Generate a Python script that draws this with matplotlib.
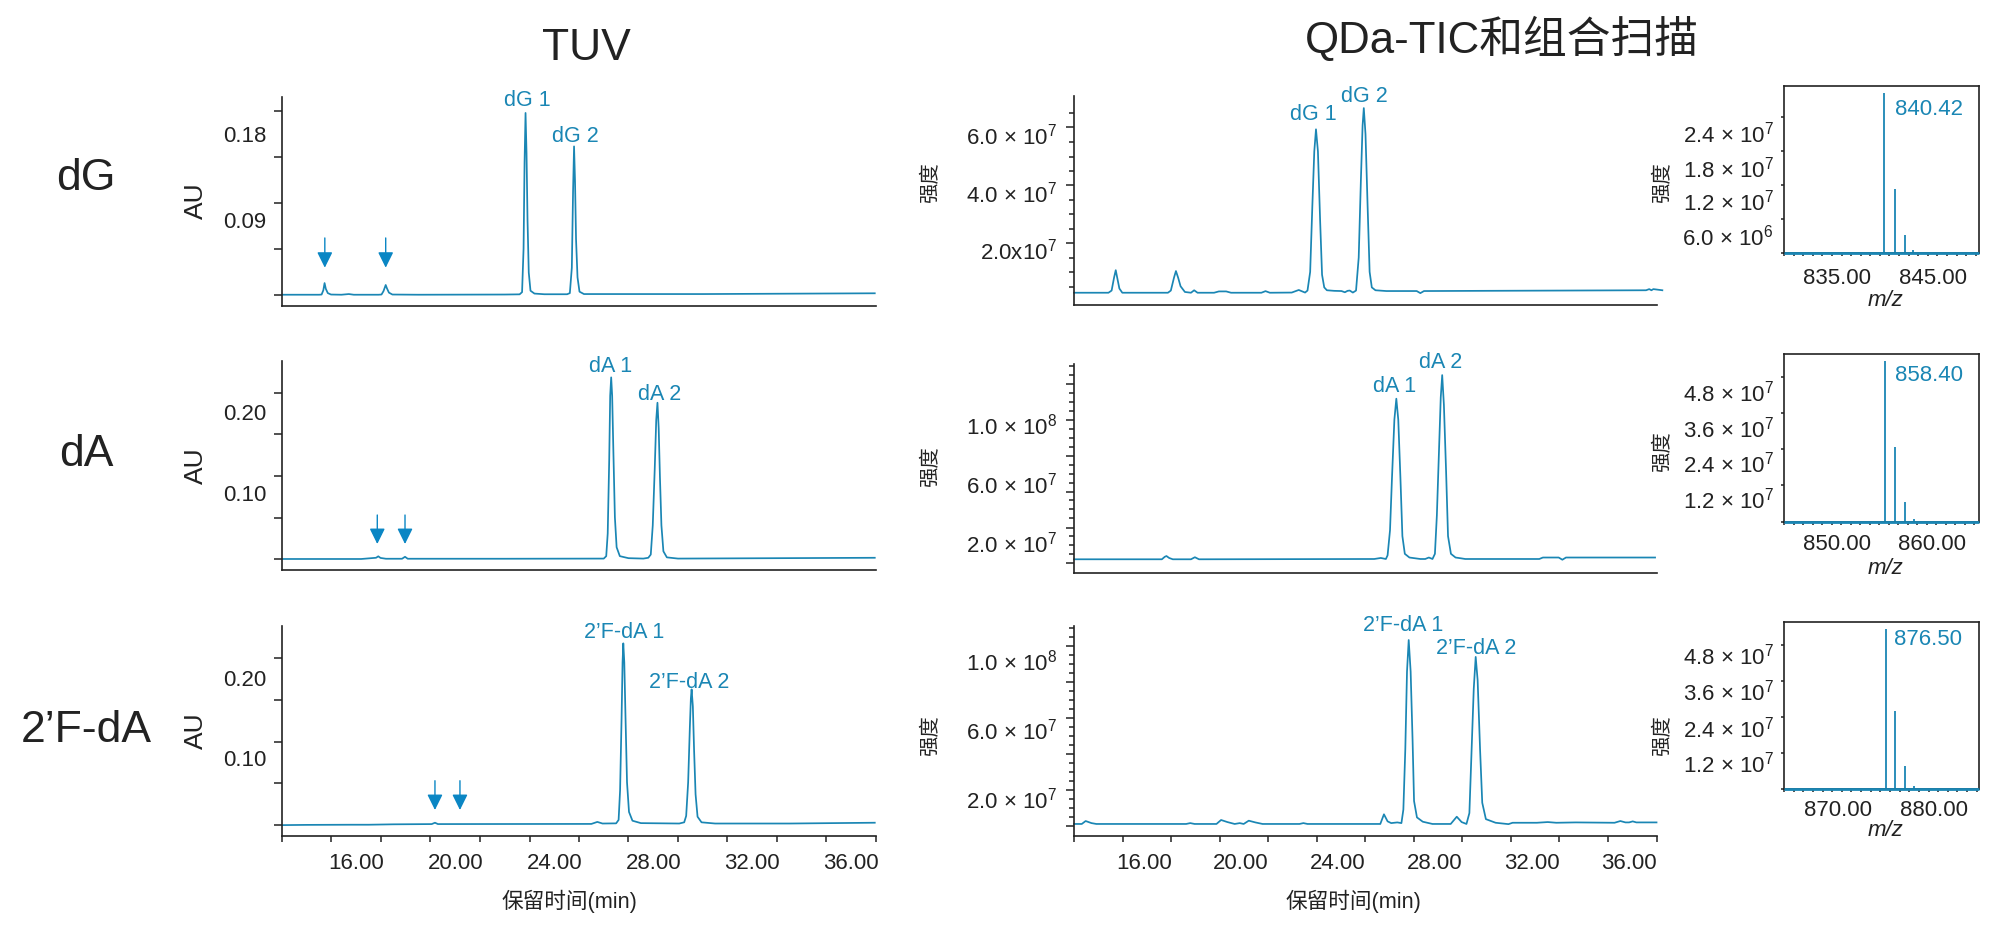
import numpy as np
import matplotlib
matplotlib.use("Agg")
import matplotlib.pyplot as plt
from matplotlib.transforms import ScaledTranslation

plt.rcParams["font.family"] = ["Liberation Sans", "Noto Sans CJK SC", "DejaVu Sans"]
plt.rcParams["mathtext.fontset"] = "custom"
plt.rcParams["mathtext.rm"] = "Liberation Sans"
plt.rcParams["mathtext.default"] = "regular"

W, H = 2000, 936
BLUE = "#1a86b4"
ARROW = "#0a86c4"
DARK = "#222222"

# TUV traces (retention time in min, absorbance in AU)
tuv_dg_t = [13.0, 14.5, 14.6, 14.67, 14.72, 14.77, 14.85, 14.98, 15.4, 15.7, 15.9, 16.9, 17.02, 17.1, 17.19, 17.24, 17.32, 17.46, 18.5, 22.0, 22.6, 22.7, 22.76, 22.8, 22.84, 22.88, 22.92, 22.97, 23.04, 23.2, 23.6, 24.52, 24.63, 24.71, 24.76, 24.8, 24.84, 24.88, 24.94, 25.02, 25.2, 30.0, 36.95]
tuv_dg_v = [.0118, .0118, .012, .0165, .024, .018, .0135, .012, .0118, .0125, .0118, .0118, .012, .0155, .022, .0185, .014, .012, .0118, .012, .0122, .0145, .06, .15, .202, .16, .09, .035, .016, .013, .0123, .0123, .0135, .04, .12, .167, .13, .07, .03, .015, .0125, .0125, .0133]
tuv_da_t = [13.0, 16.2, 16.6, 16.8, 16.89, 16.98, 17.2, 17.85, 17.97, 18.08, 22.0, 26.0, 26.1, 26.16, 26.22, 26.26, 26.3, 26.34, 26.39, 26.45, 26.52, 26.65, 27.0, 27.6, 27.8, 27.9, 27.98, 28.06, 28.12, 28.17, 28.22, 28.27, 28.33, 28.41, 28.55, 29.0, 36.95]
tuv_da_v = [.0185, .0185, .0195, .02, .0218, .0198, .0188, .0188, .0212, .0188, .0188, .019, .022, .05, .14, .22, .2428, .22, .15, .07, .033, .022, .0195, .019, .02, .024, .06, .13, .19, .2115, .18, .12, .06, .028, .0205, .019, .02]
tuv_fa_t = [13.0, 14.0, 15.8, 16.5, 17.5, 19.05, 19.18, 19.3, 25.5, 25.74, 25.95, 26.5, 26.6, 26.66, 26.72, 26.76, 26.79, 26.83, 26.88, 26.94, 27.02, 27.16, 27.5, 29.05, 29.25, 29.33, 29.41, 29.48, 29.52, 29.55, 29.6, 29.65, 29.71, 29.79, 29.95, 30.5, 33.5, 36.95]
tuv_fa_v = [.0165, .0168, .017, .017, .0175, .0178, .0195, .0178, .018, .0205, .0185, .0187, .023, .06, .15, .22, .2437, .22, .15, .07, .033, .022, .019, .0185, .02, .028, .07, .14, .175, .1862, .165, .11, .055, .027, .02, .0185, .0185, .0195]

# QDa TIC traces (intensity in units of 1e7)
tic_dg_t = [13.13, 14.55, 14.68, 14.78, 14.85, 14.91, 15.0, 15.12, 17.0, 17.12, 17.25, 17.33, 17.42, 17.52, 17.7, 17.95, 18.08, 18.22, 18.9, 19.1, 19.4, 19.6, 20.85, 21.02, 21.2, 22.1, 22.39, 22.65, 22.75, 22.86, 22.95, 23.03, 23.1, 23.18, 23.27, 23.35, 23.44, 23.55, 23.85, 24.15, 24.29, 24.4, 24.49, 24.62, 24.75, 24.86, 24.95, 25.02, 25.07, 25.14, 25.23, 25.31, 25.4, 25.55, 26.0, 27.25, 27.4, 27.55, 36.7, 36.83, 36.92, 37.0, 37.37]
tic_dg_v = [.574, .574, .65, 1.1, 1.36, 1.1, .72, .574, .574, .65, 1.1, 1.33, 1.1, .8, .6, .574, .66, .574, .574, .62, .62, .574, .574, .63, .574, .58, .67, .58, .65, 1.3, 3.6, 5.5, 6.27, 5.5, 3.1, 1.2, .76, .66, .64, .633, .59, .64, .65, .58, .65, 1.8, 4.5, 6.4, 7.01, 6.1, 3.5, 1.3, .76, .66, .633, .633, .56, .633, .66, .7, .66, .7, .66]
tic_da_t = [13.13, 16.75, 16.87, 16.94, 17.05, 17.2, 17.95, 18.11, 18.28, 25.5, 25.77, 25.98, 26.05, 26.15, 26.23, 26.33, 26.41, 26.49, 26.58, 26.66, 26.76, 26.95, 27.4, 27.6, 27.75, 27.9, 28.0, 28.08, 28.16, 28.24, 28.3, 28.37, 28.46, 28.54, 28.66, 28.85, 29.06, 29.25, 32.3, 32.45, 33.1, 33.25, 33.4, 37.07]
tic_da_v = [1.03, 1.03, 1.2, 1.25, 1.12, 1.03, 1.03, 1.17, 1.03, 1.05, 1.12, 1.05, 1.3, 3, 6.5, 10.5, 11.92, 10.5, 6.5, 2.6, 1.4, 1.15, 1.05, 1.05, 1.15, 1.05, 1.4, 4, 8, 12, 13.52, 11.5, 7, 2.6, 1.4, 1.15, 1.1, 1.05, 1.05, 1.15, 1.15, 1.0, 1.15, 1.15]
tic_fa_t = [13.13, 13.45, 13.61, 13.85, 14.05, 17.75, 17.92, 18.1, 19.0, 19.19, 19.45, 19.75, 19.96, 20.12, 20.33, 20.6, 20.9, 22.42, 22.58, 22.75, 25.75, 25.9, 26.05, 26.2, 26.45, 26.62, 26.7, 26.78, 26.85, 26.92, 27.0, 27.08, 27.14, 27.26, 27.5, 27.9, 28.65, 28.9, 29.1, 29.3, 29.42, 29.5, 29.6, 29.68, 29.76, 29.86, 29.95, 30.1, 30.5, 31.03, 31.2, 32.2, 32.65, 33.0, 33.8, 35.4, 35.64, 35.85, 36.0, 36.15, 36.3, 37.13]
tic_fa_v = [.67, .67, .84, .72, .67, .67, .72, .67, .67, .9, .78, .67, .72, .67, .86, .76, .67, .67, .72, .67, .67, 1.23, .82, .72, .76, .72, 1.5, 5, 9.5, 11.33, 9.5, 5.5, 2.0, 1.05, .8, .67, .67, 1.09, .78, .67, 1.3, 4.5, 8.5, 10.35, 9, 5, 1.9, .95, .74, .66, .74, .74, .78, .74, .76, .74, .84, .76, .76, .82, .76, .76]

# Combined scan spectra (m/z, intensity in units of 1e7)
ms_dg_mz = [839.9, 841.0, 842.05, 842.95]
ms_dg_v = [2.818, 1.135, .312, .053]
ms_da_mz = [855.02, 856.14, 857.17, 858.09]
ms_da_v = [5.333, 2.467, .633, .09]
ms_fa_mz = [874.98, 875.95, 876.96, 877.89]
ms_fa_v = [5.333, 2.6, .767, .1]

# arrows over the small TUV peaks
arrow_dg_t = [14.73, 17.19]
arrow_da_t = [16.85, 17.97]
arrow_fa_t = [19.18, 20.19]

time_ticks = [16, 20, 24, 28, 32, 36]
time_labels = ["16.00", "20.00", "24.00", "28.00", "32.00", "36.00"]


def new_axes(fig, left, top, right, bottom):
    return fig.add_axes([left / W, 1 - bottom / H, (right - left) / W, (bottom - top) / H])


def px_text(fig, x, y, s, size, color=DARK, **kw):
    kw.setdefault("ha", "center")
    kw.setdefault("va", "center")
    fig.text(x / W, 1 - y / H, s, fontsize=size, color=color, **kw)


def style_spines(ax, box=False):
    for side in ["top", "right"]:
        ax.spines[side].set_visible(box)
    for side in ax.spines:
        ax.spines[side].set_linewidth(1.2)
        ax.spines[side].set_color(DARK)
    ax.patch.set_alpha(0)


def y_axis(ax, label_pos, labels, marks, long_marks, pad, short_len=3.0, long_len=5.8, lift=0):
    # labelled ticks carry no mark, the marks themselves sit on minor ticks
    ax.set_yticks(label_pos)
    ax.set_yticklabels(labels)
    ax.tick_params(axis="y", which="major", length=0, pad=pad, labelsize=16, labelcolor=DARK)
    ax.set_yticks(marks, minor=True)
    ax.tick_params(axis="y", which="minor", width=1.1, color=DARK, length=short_len)
    for tick, m in zip(ax.yaxis.get_minor_ticks(), ax.get_yticks(minor=True)):
        tick.tick1line.set_markersize(long_len if m in long_marks else short_len)
    if lift:
        shift = ScaledTranslation(0, lift / 100, ax.figure.dpi_scale_trans)
        for lbl in ax.get_yticklabels():
            lbl.set_transform(lbl.get_transform() + shift)


def x_axis(ax, label_pos, labels, marks, pad, length):
    ax.set_xticks(label_pos)
    ax.set_xticklabels(labels)
    ax.tick_params(axis="x", which="major", length=0, pad=pad, labelsize=16, labelcolor=DARK)
    ax.set_xticks(marks, minor=True)
    ax.tick_params(axis="x", which="minor", width=1.1, color=DARK, length=length)


def plot_tuv(fig, top, bottom, ylim, t, v, arrows, tip, tail, label_pos, labels, marks, show_x):
    ax = new_axes(fig, 282, top, 876, bottom)
    style_spines(ax)
    ax.plot(t, v, color=BLUE, lw=1.25, clip_on=False)
    for a in arrows:
        ax.annotate("", xy=(a, tip), xytext=(a, tail),
                    arrowprops=dict(arrowstyle="-|>,head_length=0.95,head_width=0.47",
                                    mutation_scale=10, color=ARROW, lw=1.0, shrinkA=0, shrinkB=0))
    ax.set_xlim(13, 37)
    ax.set_ylim(*ylim)
    y_axis(ax, label_pos, labels, marks, marks, 11.5)
    if show_x:
        x_axis(ax, time_ticks, time_labels, np.arange(13, 38, 2), 12.5, 4.3)
    else:
        ax.set_xticks([])
    return ax


def plot_tic(fig, top, bottom, ylim, t, v, label_pos, labels, marks, long_marks, show_x):
    ax = new_axes(fig, 1074, top, 1657, bottom)
    style_spines(ax)
    ax.plot(t, np.array(v) * 1e7, color=BLUE, lw=1.25, clip_on=False)
    ax.set_xlim(13.13, 37.15)
    ax.set_ylim(ylim[0] * 1e7, ylim[1] * 1e7)
    y_axis(ax, np.array(label_pos) * 1e7, labels, np.array(marks) * 1e7,
           set(np.array(long_marks) * 1e7), 12.2, short_len=3.4, long_len=5.8, lift=2.5)
    if show_x:
        x_axis(ax, time_ticks, time_labels, 13.13 + 2 * np.arange(13), 12.5, 4.3)
    else:
        ax.set_xticks([])
    return ax


def plot_ms(fig, top, bottom, xlim, ytop, mz, v, xt, xl, xpad, label_pos, labels, peak_x, peak_y, peak_s):
    ax = new_axes(fig, 1784, top, 1978.5, bottom)
    style_spines(ax, box=True)
    ax.vlines(mz, 0, np.array(v) * 1e7, color=BLUE, lw=1.3)
    ax.hlines(0, xlim[0], xlim[1], color=BLUE, lw=2.0, clip_on=False, zorder=3)
    ax.set_xlim(*xlim)
    ax.set_ylim(0, ytop * 1e7)
    marks = [m * 1e7 for m in [0, 1.2, 2.4, 3.6, 4.8]]
    if "6.0" in labels[-1]:
        marks = [m * 1e7 for m in [0, .6, 1.2, 1.8, 2.4]]
    y_axis(ax, np.array(label_pos) * 1e7, labels, marks, marks, 7.5, short_len=2.0, long_len=2.0, lift=2.5)
    x_axis(ax, xt, xl, xlim[0] + np.arange(0, 21), xpad, 2.2)
    ax.text(peak_x, peak_y * 1e7, peak_s, color=BLUE, fontsize=16, ha="center", va="center")
    return ax


def main():
    fig = plt.figure(figsize=(W / 100, H / 100), dpi=100)

    # TUV column
    plot_tuv(fig, 97, 306, (0, .2187), tuv_dg_t, tuv_dg_v, arrow_dg_t, .0401, .0712,
             [.09, .18], ["0.09", "0.18"], [.0115, .0597, .1078, .156, .204], False)
    plot_tuv(fig, 361, 570, (.0049, .263), tuv_da_t, tuv_da_v, arrow_da_t, .037, .0728,
             [.10, .20], ["0.10", "0.20"], [.0185, .0695, .121, .1725, .2238], False)
    plot_tuv(fig, 626, 836, (.0029, .2654), tuv_fa_t, tuv_fa_v, arrow_fa_t, .0354, .072,
             [.10, .20], ["0.10", "0.20"], [.0166, .0688, .1208, .1729, .225], True)

    # QDa TIC column
    marks = [6.85, 6.34, 5.83, 5.32, 4.82, 4.32, 3.82, 3.31, 2.8, 2.3, 1.79, 1.29, .78]
    plot_tic(fig, 96, 305.3, (.136, 7.43), tic_dg_t, tic_dg_v, [2, 4, 6],
             ["2.0x10$^{7}$", "4.0 × 10$^{7}$", "6.0 × 10$^{7}$"], marks, [6.34, 4.32, 2.3], False)
    marks = [14.16, 13.53, 12.92, 12.31, 11.72, 11.1, 10.49, 9.89, 9.27, 8.66, 8.05, 7.44,
             6.83, 6.22, 5.61, 5.03, 4.42, 3.81, 3.17, 2.59, 1.98, 1.37, .76]
    plot_tic(fig, 364, 573.3, (.08, 14.27), tic_da_t, tic_da_v, [2, 6, 10],
             ["2.0 × 10$^{7}$", "6.0 × 10$^{7}$", "1.0 × 10$^{8}$"], marks,
             [12.92, 10.49, 8.05, 5.61, 3.17, .76], False)
    marks = [12.01, 11.49, 10.97, 10.44, 9.92, 9.4, 8.88, 8.36, 7.84, 7.31, 6.79, 6.29,
             5.77, 5.25, 4.72, 4.2, 3.68, 3.16, 2.64, 2.11, 1.59, 1.09, .57]
    plot_tic(fig, 626, 835.7, (-.01, 12.14), tic_fa_t, tic_fa_v, [2, 6, 10],
             ["2.0 × 10$^{7}$", "6.0 × 10$^{7}$", "1.0 × 10$^{8}$"], marks,
             [10.97, 8.88, 6.79, 4.72, 2.64, .57], True)

    # spectra column
    plot_ms(fig, 85.7, 253, (829.45, 849.73), 2.952, ms_dg_mz, ms_dg_v, [835, 845], ["835.00", "845.00"], 11,
            [2.082, 1.477, .888, .277],
            ["2.4 × 10$^{7}$", "1.8 × 10$^{7}$", "1.2 × 10$^{7}$", "6.0 × 10$^{6}$"],
            844.62, 2.524, "840.42")
    plot_ms(fig, 354, 521.5, (844.44, 864.9), 5.567, ms_da_mz, ms_da_v, [850, 860], ["850.00", "860.00"], 8.9,
            [4.257, 3.057, 1.9, .7],
            ["4.8 × 10$^{7}$", "3.6 × 10$^{7}$", "2.4 × 10$^{7}$", "1.2 × 10$^{7}$"],
            859.69, 4.867, "858.40")
    plot_ms(fig, 621.7, 789, (864.39, 884.57), 5.577, ms_fa_mz, ms_fa_v, [870, 880], ["870.00", "880.00"], 7.7,
            [4.41, 3.21, 1.99, .8],
            ["4.8 × 10$^{7}$", "3.6 × 10$^{7}$", "2.4 × 10$^{7}$", "1.2 × 10$^{7}$"],
            879.38, 4.967, "876.50")

    # headers and row names
    px_text(fig, 586, 48, "TUV", 32)
    px_text(fig, 1502, 39, "QDa-TIC和组合扫描", 31.5)
    px_text(fig, 86, 179, "dG", 32)
    px_text(fig, 86, 454, "dA", 32)
    px_text(fig, 86, 731, "2’F-dA", 32)

    # axis titles
    for y in [201, 466, 731]:
        px_text(fig, 196, y, "AU", 19, rotation=90)
    for y in [183, 467, 736]:
        px_text(fig, 931, y, "强度", 14.7, rotation=90)
    for y in [183, 452, 736]:
        px_text(fig, 1663, y, "强度", 14.7, rotation=90)
    for x in [569, 1353]:
        px_text(fig, x, 901.5, "保留时间(min)", 15.6)
    for y in [300, 568, 831]:
        px_text(fig, 1885, y, "m/z", 16, style="italic")

    # peak names
    peaks = [(527, 100, "dG 1"), (575, 136, "dG 2"), (611, 367, "dA 1"), (660, 394, "dA 2"),
             (624.5, 632, "2’F-dA 1"), (689, 682, "2’F-dA 2"),
             (1313, 115, "dG 1"), (1364, 96, "dG 2"), (1395, 387, "dA 1"), (1441, 362, "dA 2"),
             (1403, 625.5, "2’F-dA 1"), (1476, 648, "2’F-dA 2")]
    for x, y, s in peaks:
        px_text(fig, x, y, s, 15.5, color=BLUE)

    fig.savefig("out.png", dpi=100)


if __name__ == "__main__":
    main()
